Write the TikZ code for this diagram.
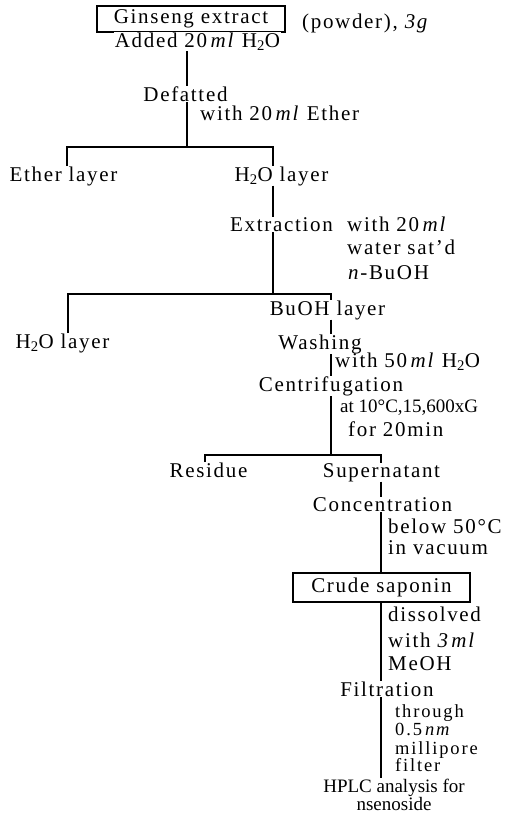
\documentclass[tikz,border=0pt]{standalone}
\usepackage{fontspec}
\setmainfont{Liberation Serif}[LetterSpace=8]
\pgfdeclarelayer{bg}
\pgfsetlayers{bg,main}
\begin{document}
\begin{tikzpicture}[x=1pt,y=-1pt,
  txt/.style={inner sep=0pt, font=\fontsize{21}{22}\selectfont},
  stepbox/.style={txt, fill=white, anchor=base, inner sep=0.5pt},
  note/.style={txt, anchor=base west},
  lbl/.style={txt, anchor=base},
  small/.style={font=\fontsize{18.5}{20}\selectfont\addfontfeature{LetterSpace=10}},
  tight/.style={font=\fontsize{19}{20}\selectfont\addfontfeature{LetterSpace=0}},
  framebox/.style={draw, line width=1.2pt, inner sep=0pt, font=\fontsize{21}{22}\selectfont},
  conn/.style={line width=1.2pt}]
\useasboundingbox (0,0) rectangle (508,831);
% boxes
\node[framebox, minimum width=188pt, minimum height=26pt] (gbox) at (191,19) {Ginseng extract};
\node[framebox, minimum width=177pt, minimum height=29pt] (crude) at (381.5,587.5) {Crude saponin};
% main steps
\node[stepbox] (added) at (197.5,47) {Added 20\,\textit{ml} H\textsubscript{2}O};
\node[stepbox] (defat) at (185.5,101) {Defatted};
\node[lbl] (ether) at (63.5,181) {Ether layer};
\node[lbl] (h2oA) at (281.5,181) {H\textsubscript{2}O layer};
\node[stepbox] (extr) at (281.5,231) {Extraction};
\node[lbl] (buoh) at (327.5,315) {BuOH layer};
\node[lbl] (h2oB) at (62.5,348) {H\textsubscript{2}O layer};
\node[stepbox] (wash) at (320,349) {Washing};
\node[stepbox] (centr) at (331,391) {Centrifugation};
\node[lbl] (resid) at (208.5,477) {Residue};
\node[lbl] (super) at (381.5,477) {Supernatant};
\node[stepbox] (conc) at (382.5,511) {Concentration};
\node[stepbox] (filt) at (387,696) {Filtration};
\node[lbl, tight] (hplc) at (394,792) {HPLC analysis for};
\node[lbl, tight] (gins) at (394,810) {nsenoside};
% notes
\node[note] (powder) at (302,28) {(powder), \textit{3g}};
\node[note] (nEther) at (200,120) {with 20\,\textit{ml} Ether};
\node[note] (nExA) at (347,231) {with 20\,\textit{ml}};
\node[note] (nExB) at (347,254) {water sat'd};
\node[note] (nExC) at (348,279) {\textit{n}-BuOH};
\node[note] (nWash) at (335,367) {with 50\,\textit{ml} H\textsubscript{2}O};
\node[note, tight] (nCenA) at (340,412) {at 10°C,15,600xG};
\node[note] (nCenB) at (348,436) {for 20min};
\node[note] (nConA) at (388,533) {below 50°C};
\node[note] (nConB) at (388,554) {in vacuum};
\node[note] (nDisA) at (388,621) {dissolved};
\node[note] (nDisB) at (388,647) {with \textit{3\,ml}};
\node[note] (nDisC) at (388,670) {MeOH};
\node[note, small] (nFilA) at (395,717) {through};
\node[note, small] (nFilB) at (395,735) {0.5\,\textit{nm}};
\node[note, small] (nFilC) at (395,754) {millipore};
\node[note, small] (nFilD) at (395,771) {filter};
% junctions
\coordinate (j1) at (187,147);
\coordinate (s1l) at (67,147);
\coordinate (s1r) at (273,147);
\coordinate (j2) at (273,294);
\coordinate (s2l) at (68,294);
\coordinate (s2r) at (331,294);
\coordinate (j3) at (331,455);
\coordinate (s3l) at (205,455);
\coordinate (s3r) at (381,455);
\begin{pgfonlayer}{bg}
\draw[conn] (gbox.south -| j1) -- (j1);
\draw[conn] (ether.north -| s1l) -- (s1l) -- (s1r) -- (s1r |- h2oA.north);
\draw[conn] (s1r |- h2oA.south) -- (j2);
\draw[conn] (h2oB.north -| s2l) -- (s2l) -- (s2r) -- (s2r |- buoh.north);
\draw[conn] (s2r |- buoh.south) -- (j3);
\draw[conn] (resid.north -| s3l) -- (s3l) -- (s3r) -- (s3r |- super.north);
\draw[conn] (s3r |- super.south) -- (s3r |- crude.north);
\draw[conn] (s3r |- crude.south) -- (s3r |- hplc.north);
\end{pgfonlayer}
\end{tikzpicture}
\end{document}
